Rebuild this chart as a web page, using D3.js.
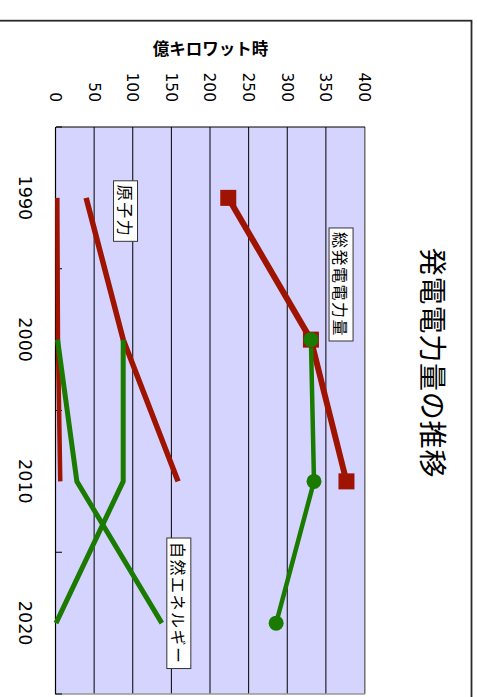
<!DOCTYPE html>
<html><head><meta charset="utf-8">
<script src="https://cdn.jsdelivr.net/npm/d3@7"></script>
<style>html,body{margin:0;padding:0;background:#fff;overflow:hidden}</style>
</head><body>
<svg id="chart" width="477" height="697"></svg>
<script>
// ---- data ----
const categories = ['1990', '2000', '2010', '2020'];
const totalActual      = [223, 330, 376, null];
const totalOutlook     = [null, 330, 334, 285];
const nuclearActual    = [39, 87, 158, null];
const nuclearOutlook   = [null, 87, 87, 0];
const renewableActual  = [1.7, 2.5, 5.5, null];
const renewableOutlook = [null, 2, 27, 137];
const valueTicks = [0, 50, 100, 150, 200, 250, 300, 350, 400];
const titleText = '発電電力量の推移';
const axisTitleText = '億キロワット時';
const labelTexts = ['総発電電力量', '原子力', '自然エネルギー'];
const labelAnchors = [[0.611, 369], [0.093, 90], [2.86, 159]]; // [category index, value]

// ---- layout (unrotated frame: 697 wide x 477 tall, then rotated 90deg clockwise) ----
const RED = '#9e1400', GREEN = '#1b7a00', BG = '#d4d4ff';
const cjk = '"Noto Sans CJK JP", "Noto Sans", sans-serif';
const num = '"DejaVu Sans", sans-serif';
const plot = {left: 127, right: 694, top: 112, bottom: 421};

const svg = d3.select('#chart');
const g = svg.append('g').attr('transform', 'translate(477,0) rotate(90)');

const x = d3.scaleBand().domain(categories).range([plot.left, plot.right]).paddingInner(0).paddingOuter(0);
const xc = c => x(c) + x.bandwidth() / 2;
const xi = d3.scaleLinear().domain([0, 1]).range([plot.left + x.bandwidth() / 2, plot.left + 1.5 * x.bandwidth()]);
const y = d3.scaleLinear().domain([0, 400]).range([plot.bottom, plot.top]);

// outer frame
g.append('rect').attr('x', 20.7).attr('y', 5.5).attr('width', 720).attr('height', 520)
  .attr('fill', 'none').attr('stroke', '#2a2a2a').attr('stroke-width', 1.8);

// plot background
g.append('rect').attr('x', plot.left).attr('y', plot.top)
  .attr('width', plot.right - plot.left).attr('height', plot.bottom - plot.top).attr('fill', BG);

// value axis with gridlines
const yAxis = g.append('g').attr('transform', `translate(${plot.left},0)`)
  .call(d3.axisLeft(y).tickValues(valueTicks).tickSize(-(plot.right - plot.left)).tickPadding(25).tickFormat(d3.format('d')));
yAxis.select('.domain').remove();
yAxis.selectAll('.tick line').attr('stroke', '#000').attr('stroke-width', 1);
yAxis.selectAll('.tick text').attr('font-family', num).attr('font-size', 15.5).attr('fill', '#000').attr('dy', '0.36em');

// plot border: right/top gray
g.append('line').attr('x1', plot.right).attr('x2', plot.right).attr('y1', plot.top).attr('y2', plot.bottom).attr('stroke', '#999').attr('stroke-width', 1.5);
g.append('line').attr('x1', plot.left).attr('x2', plot.right).attr('y1', plot.top).attr('y2', plot.top).attr('stroke', '#999').attr('stroke-width', 1.5);
// value axis line
g.append('line').attr('x1', plot.left).attr('x2', plot.left).attr('y1', plot.top).attr('y2', plot.bottom).attr('stroke', '#000').attr('stroke-width', 1.2);

// category axis
const xAxis = g.append('g').attr('transform', `translate(0,${plot.bottom})`)
  .call(d3.axisBottom(x).tickSize(0).tickPadding(25));
xAxis.select('.domain').attr('stroke', '#000').attr('stroke-width', 1.2);
xAxis.selectAll('.tick text').attr('font-family', num).attr('font-size', 17.5).attr('fill', '#000');
// boundary ticks (inward)
const bounds = categories.map(c => x(c)).concat([plot.right]);
g.selectAll('.btick').data(bounds).enter().append('line')
  .attr('x1', d => d).attr('x2', d => d).attr('y1', plot.bottom).attr('y2', plot.bottom - 6)
  .attr('stroke', '#000').attr('stroke-width', 1);

// series
const line = d3.line().defined(d => d.v != null).x(d => xc(d.c)).y(d => y(d.v));
const toPts = arr => categories.map((c, i) => ({c, v: arr[i]}));
const series = [
  {data: renewableActual, color: RED, w: 4.5},
  {data: nuclearActual, color: RED, w: 5.5},
  {data: totalActual, color: RED, w: 6},
  {data: renewableOutlook, color: GREEN, w: 5},
  {data: nuclearOutlook, color: GREEN, w: 5},
  {data: totalOutlook, color: GREEN, w: 4.5},
];
series.forEach(s => {
  g.append('path').datum(toPts(s.data)).attr('d', line).attr('fill', 'none')
    .attr('stroke', s.color).attr('stroke-width', s.w).attr('stroke-linejoin', 'round').attr('stroke-linecap', 'butt');
});
// markers
g.selectAll('.sq').data(toPts(totalActual).filter(d => d.v != null)).enter().append('rect')
  .attr('x', d => xc(d.c) - 8).attr('y', d => y(d.v) - 8).attr('width', 16).attr('height', 16).attr('fill', RED);
g.selectAll('.ci').data(toPts(totalOutlook).filter(d => d.v != null)).enter().append('circle')
  .attr('cx', d => xc(d.c)).attr('cy', d => y(d.v)).attr('r', 7.5).attr('fill', GREEN);

// labels with boxes
labelTexts.forEach((t, i) => {
  const cx = xi(labelAnchors[i][0]), cy = y(labelAnchors[i][1]);
  const lg = g.append('g');
  const txt = lg.append('text').attr('x', cx).attr('y', cy).attr('text-anchor', 'middle')
    .attr('dominant-baseline', 'central').attr('font-family', cjk).attr('font-size', 16)
    .attr('letter-spacing', 1.5).attr('fill', '#000').text(t);
  const bb = txt.node().getBBox();
  const w = bb.width + 8, h = 24;
  lg.insert('rect', 'text').attr('x', cx - w / 2).attr('y', cy - h / 2).attr('width', w).attr('height', h)
    .attr('fill', '#fff').attr('stroke', '#333').attr('stroke-width', 1);
});

// axis title (rotated in unrotated frame)
g.append('text').attr('transform', `translate(48,${(plot.top + plot.bottom) / 2}) rotate(-90)`)
  .attr('text-anchor', 'middle').attr('dominant-baseline', 'central')
  .attr('font-family', cjk).attr('font-size', 16.5).attr('font-weight', 'bold').attr('fill', '#000').text(axisTitleText);

// chart title
g.append('text').attr('x', 363).attr('y', 43).attr('text-anchor', 'middle').attr('dominant-baseline', 'central')
  .attr('font-family', cjk).attr('font-size', 28).attr('letter-spacing', 0.8).attr('fill', '#000').text(titleText);
</script>
</body></html>
